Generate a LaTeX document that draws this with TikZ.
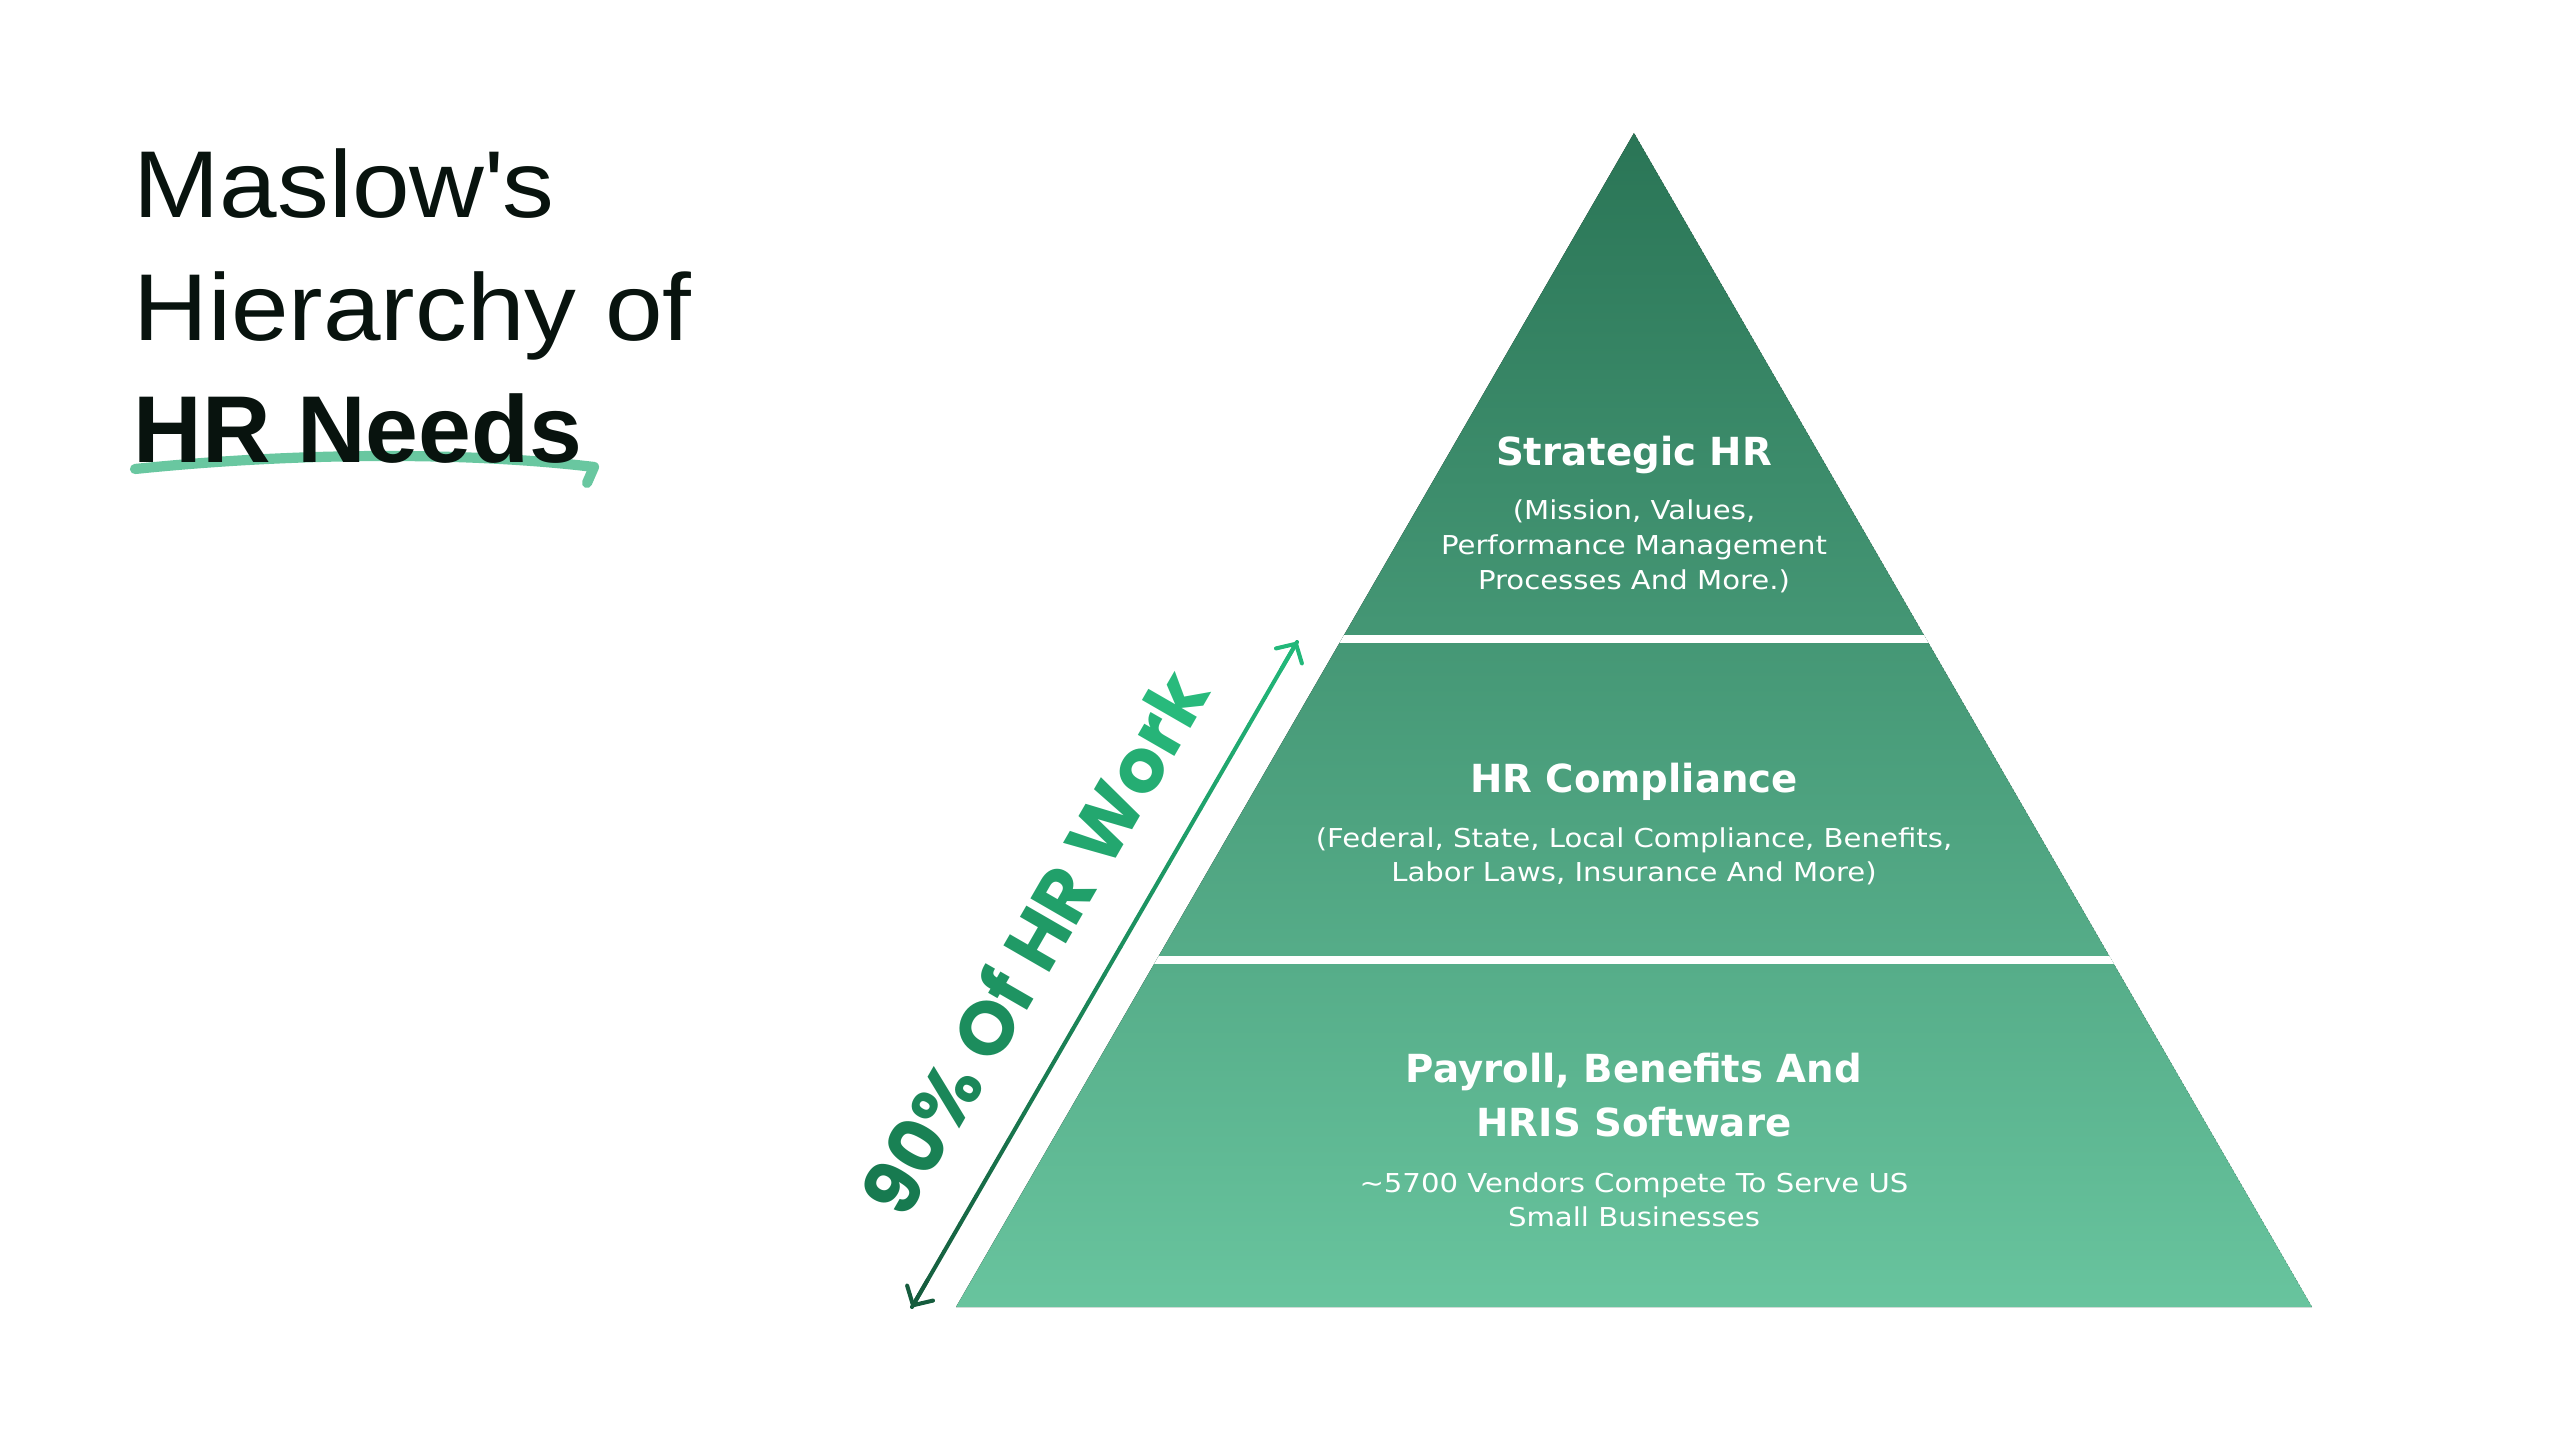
\documentclass[tikz,border=0pt]{standalone}
\usepackage{fontspec}
\setmainfont{DejaVu Sans}
\newfontfamily\bodyfont{DejaVu Sans}[FakeStretch=1.12]
\newfontfamily\titlefont{Liberation Sans}[FakeStretch=1.09]
\newfontfamily\titlebold{Liberation Sans}
\newfontfamily\workfont{Poppins}[LetterSpace=2]
\definecolor{pyrtop}{HTML}{2A7556}
\definecolor{pyrbot}{HTML}{68C49E}
\definecolor{inkdark}{HTML}{08130E}
\definecolor{swooshgreen}{HTML}{69C7A0}
\definecolor{arrowlo}{HTML}{155C3D}
\definecolor{arrowhi}{HTML}{22B87A}
\definecolor{worklo}{HTML}{177A50}
\definecolor{workhi}{HTML}{28BA7C}
\usetikzlibrary{calc, arrows.meta}

\newcommand{\gradch}[2]{{\color{workhi!#1!worklo}#2}}

\begin{document}
\begin{tikzpicture}[x = 0.01cm, y = -0.01cm,
    maintitle/.style = {text = inkdark, font = \titlefont\fontsize{27}{32}\selectfont, anchor = base west, inner sep = 0},
    tiername/.style = {text = white, font = \bfseries\fontsize{11}{13}\selectfont, anchor = base, inner sep = 0},
    tiertext/.style = {text = white, font = \bodyfont\fontsize{7.4}{9}\selectfont, anchor = base, inner sep = 0}]

    \useasboundingbox (0,0) rectangle (2560,1440);

    \def \apex {1634}
    \def \nseg {24}

    %% title with the green swoosh under it
    \coordinate (swa) at (135,469);
    \coordinate (swb) at (594,467);
    \coordinate (swc) at (587,483);
    \draw[draw = swooshgreen, line width = 2.9pt, line cap = round, line join = round]
        (swa) .. controls (300,452) and (470,452) .. (swb) -- (swc);

    \node [maintitle] (title1) at (133,218) {Maslow\textquotesingle s};
    \node [maintitle] (title2) at (133,341) {Hierarchy of};
    \node [maintitle, font = \titlebold\bfseries\fontsize{27}{32}\selectfont] (title3) at (133,463) {HR Needs};

    %% pyramid, one shading cut by two white gaps
    \coordinate (apex) at (\apex,133);
    \coordinate (bl) at (956,1307);
    \coordinate (br) at (2312,1307);
    \begin{scope}
        \clip (apex) -- (br) -- (bl) -- cycle;
        \fill [top color = pyrtop, bottom color = pyrbot] (apex) -- (br) -- (bl) -- cycle;
        \foreach \g in {635, 956}
            \fill [white] (900,\g) rectangle (2400,\g+8);
    \end{scope}

    %% top tier
    \node [tiername] (strat) at (\apex,466) {Strategic HR};
    \foreach \l [count = \i] in {{(Mission, Values,}, {Performance Management}, {Processes And More.)}}
        \node [tiertext] (strat-\i) at (\apex, {520+35*(\i-1)}) {\l};

    %% middle tier
    \node [tiername] (comp) at (\apex,793) {HR Compliance};
    \foreach \l [count = \i] in {{(Federal, State, Local Compliance, Benefits,}, {Labor Laws, Insurance And More)}}
        \node [tiertext] (comp-\i) at (\apex, {847+34*(\i-1)}) {\l};

    %% bottom tier
    \foreach \l [count = \i] in {{Payroll, Benefits And}, {HRIS Software}}
        \node [tiername] (pay-\i) at (\apex, {1082+54*(\i-1)}) {\l};
    \foreach \l [count = \i] in {{\textasciitilde 5700 Vendors Compete To Serve US}, {Small Businesses}}
        \node [tiertext] (vend-\i) at (\apex, {1192+34*(\i-1)}) {\l};

    %% arrow along the left side, drawn in pieces to fade the colour
    \coordinate (lo) at (912,1307);
    \coordinate (hi) at (1297,642);
    \foreach \s in {1,...,\nseg}
    {
        \pgfmathsetmacro{\pa}{(\s-1)/\nseg}
        \pgfmathsetmacro{\pb}{\s/\nseg}
        \pgfmathtruncatemacro{\pc}{100*(\s-0.5)/\nseg}
        \draw [line width = 1.15pt, draw = arrowhi!\pc!arrowlo, line cap = round] ($(lo)!\pa!(hi)$) -- ($(lo)!\pb!(hi)$);
    }
    \draw [line width = 1.15pt, draw = arrowlo, {Straight Barb[length = 4pt, width = 8.5pt, round]}-] (lo) -- ($(lo)!0.04!(hi)$);
    \draw [line width = 1.15pt, draw = arrowhi, -{Straight Barb[length = 4pt, width = 8.5pt, round]}] ($(lo)!0.96!(hi)$) -- (hi);

    \node [rotate = 60, anchor = base, inner sep = 0, font = \workfont\bfseries\fontsize{21.5}{25}\selectfont] (work)
        at ($(lo)!0.49!(hi) + (-42,-24)$)
        {\gradch{0}{9}\gradch{10}{0}\gradch{20}{\%} \gradch{30}{O}\gradch{40}{f} \gradch{50}{H}\gradch{60}{R} \gradch{70}{W}\gradch{80}{o}\gradch{90}{r}\gradch{100}{k}};

\end{tikzpicture}
\end{document}
